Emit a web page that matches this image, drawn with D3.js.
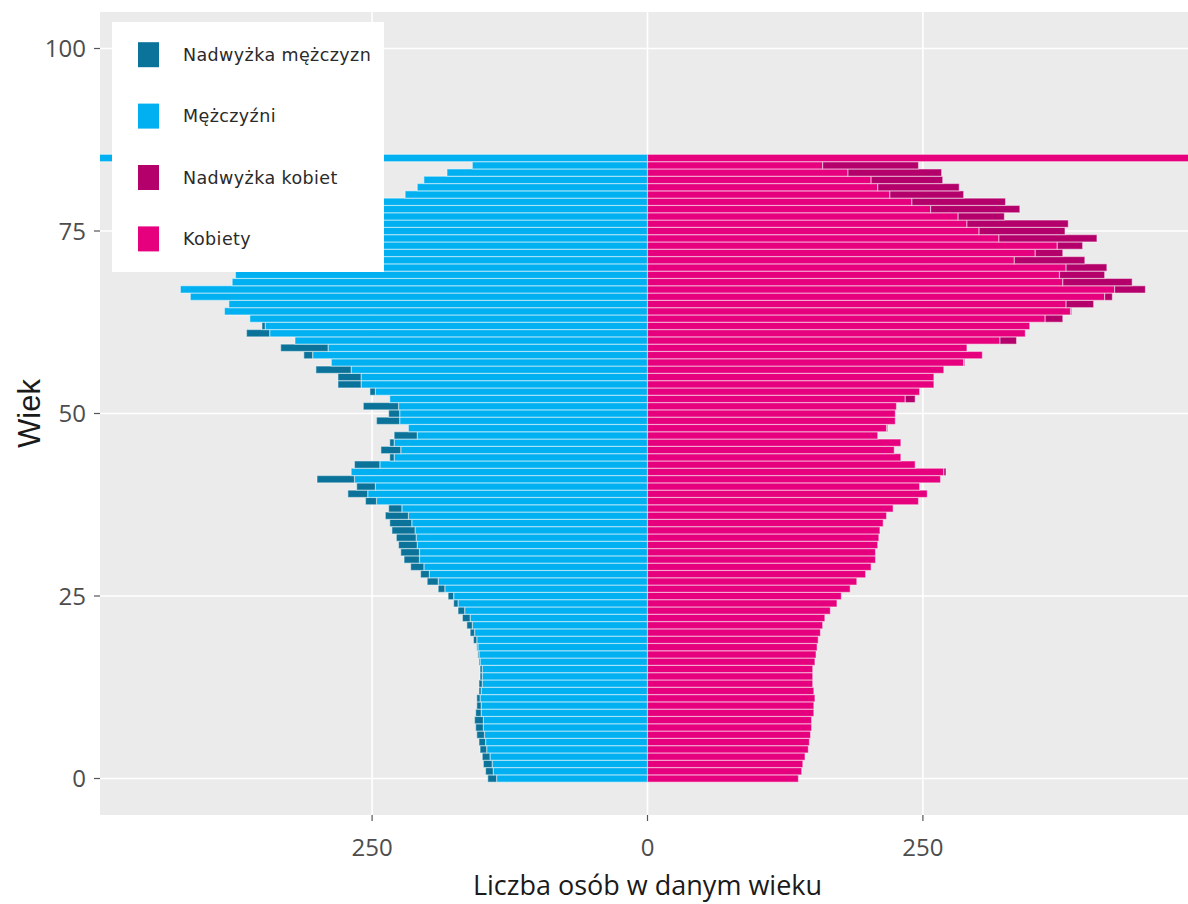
<!DOCTYPE html>
<html lang="pl">
<head>
    <meta charset="UTF-8">
    <title>Piramida wieku</title>
    <script src="https://cdnjs.cloudflare.com/ajax/libs/d3/7.8.5/d3.min.js"></script>
    <style>
        body {
            margin: 0;
            background: #ffffff;
        }
        svg {
            display: block;
        }
    </style>
</head>
<body>
    <svg id="chart" width="1188" height="904"></svg>

    <script>
        // wiek 0..85 (85 = 85 i wiecej)
        const ages = d3.range(0, 86);

        const males = [
            145, 147, 149, 150, 152, 153, 155, 156, 157, 156,
            155, 155, 153, 153, 152, 152, 153, 154, 155, 158,
            161, 164, 168, 172, 176, 181, 190, 200, 206, 215,
            221, 224, 226, 228, 232, 234, 238, 235, 256, 272,
            264, 300, 269, 266, 234, 242, 234, 230, 217, 246,
            235, 258, 234, 252, 281, 281, 301, 287, 312, 333,
            320, 364, 350, 361, 384, 380, 415, 424, 377, 374,
            380, 333, 352, 372, 319, 301, 290, 282, 257, 240,
            220, 209, 203, 182, 159, 510
        ];

        const females = [
            137, 140, 141, 143, 146, 147, 148, 149, 149, 151,
            151, 152, 151, 150, 150, 150, 152, 153, 154, 155,
            157, 159, 161, 166, 172, 176, 184, 190, 198, 203,
            207, 207, 209, 210, 211, 214, 217, 223, 246, 254,
            247, 266, 271, 243, 230, 224, 230, 209, 218, 225,
            225, 226, 243, 247, 260, 260, 269, 288, 304, 290,
            335, 343, 347, 377, 385, 405, 422, 452, 440, 415,
            417, 397, 377, 395, 408, 379, 382, 324, 338, 325,
            287, 283, 268, 267, 246, 980
        ];

        const xTicks = [-250, 0, 250];
        const yTicks = [0, 25, 50, 75, 100];

        const legendItems = [
            { label: "Nadwyżka mężczyzn", color: "#0b7399" },
            { label: "Mężczyźni", color: "#00b0f0" },
            { label: "Nadwyżka kobiet", color: "#b3006a" },
            { label: "Kobiety", color: "#e6007e" }
        ];

        const svg = d3.select("#chart");

        const panel = { left: 100, right: 1195, top: 12, bottom: 815 };

        const x = d3.scaleLinear().domain([-497, 497]).range([panel.left, panel.right]);
        const y = d3.scaleLinear().domain([-5, 105]).range([panel.bottom, panel.top]);

        svg.append("clipPath").attr("id", "clip")
            .append("rect")
            .attr("x", panel.left).attr("y", panel.top)
            .attr("width", panel.right - panel.left)
            .attr("height", panel.bottom - panel.top);

        // tlo panelu
        svg.append("rect")
            .attr("x", panel.left).attr("y", panel.top)
            .attr("width", panel.right - panel.left)
            .attr("height", panel.bottom - panel.top)
            .attr("fill", "#ebebeb");

        const grid = svg.append("g").attr("stroke", "#ffffff").attr("stroke-width", 1.6);
        grid.selectAll("line.v").data(xTicks).enter().append("line")
            .attr("x1", d => x(d)).attr("x2", d => x(d))
            .attr("y1", panel.top).attr("y2", panel.bottom);
        grid.selectAll("line.h").data(yTicks).enter().append("line")
            .attr("y1", d => y(d)).attr("y2", d => y(d))
            .attr("x1", panel.left).attr("x2", panel.right);

        // segmenty slupkow: wspolna czesc + nadwyzka
        const segs = [];
        ages.forEach((a, i) => {
            const m = males[i], f = females[i];
            const low = Math.min(m, f);
            segs.push({ age: a, from: -low, to: 0, color: "#00b0f0" });
            segs.push({ age: a, from: 0, to: low, color: "#e6007e" });
            if (m > f) segs.push({ age: a, from: -m, to: -f, color: "#0b7399" });
            if (f > m) segs.push({ age: a, from: m, to: f, color: "#b3006a" });
        });

        svg.append("g")
            .attr("clip-path", "url(#clip)")
            .selectAll("rect")
            .data(segs)
            .enter().append("rect")
            .attr("x", d => x(d.from))
            .attr("width", d => x(d.to) - x(d.from))
            .attr("y", d => y(d.age + 0.5))
            .attr("height", d => y(d.age - 0.5) - y(d.age + 0.5))
            .attr("fill", d => d.color)
            .attr("stroke", "#ffffff")
            .attr("stroke-opacity", 0.45)
            .attr("stroke-width", 1.2);

        // osie
        const xAxis = svg.append("g");
        xAxis.selectAll("line").data(xTicks).enter().append("line")
            .attr("x1", d => x(d)).attr("x2", d => x(d))
            .attr("y1", panel.bottom).attr("y2", panel.bottom + 6)
            .attr("stroke", "#555555").attr("stroke-width", 1.2);
        xAxis.selectAll("text").data(xTicks).enter().append("text")
            .attr("x", d => x(d))
            .attr("y", 856)
            .attr("text-anchor", "middle")
            .attr("font-family", "'Open Sans', sans-serif")
            .attr("font-size", 24)
            .attr("fill", "#4d4d4d")
            .text(d => Math.abs(d));

        const yAxis = svg.append("g");
        yAxis.selectAll("line").data(yTicks).enter().append("line")
            .attr("x1", panel.left - 6).attr("x2", panel.left)
            .attr("y1", d => y(d)).attr("y2", d => y(d))
            .attr("stroke", "#555555").attr("stroke-width", 1.2);
        yAxis.selectAll("text").data(yTicks).enter().append("text")
            .attr("x", 86)
            .attr("y", d => y(d))
            .attr("dy", "0.36em")
            .attr("text-anchor", "end")
            .attr("font-family", "'Open Sans', sans-serif")
            .attr("font-size", 24)
            .attr("fill", "#4d4d4d")
            .text(d => d);

        svg.append("text")
            .attr("x", x(0))
            .attr("y", 895)
            .attr("text-anchor", "middle")
            .attr("font-family", "'Open Sans', sans-serif")
            .attr("font-size", 27)
            .attr("fill", "#1a1a1a")
            .text("Liczba osób w danym wieku");

        svg.append("text")
            .attr("transform", `translate(40, ${(panel.top + panel.bottom) / 2}) rotate(-90)`)
            .attr("text-anchor", "middle")
            .attr("font-family", "'Liberation Sans', Arial, sans-serif")
            .attr("font-size", 31)
            .attr("fill", "#1a1a1a")
            .text("Wiek");

        // legenda
        const legend = svg.append("g");
        legend.append("rect")
            .attr("x", 112).attr("y", 22)
            .attr("width", 272).attr("height", 250)
            .attr("fill", "#ffffff");

        const item = legend.selectAll("g.item")
            .data(legendItems)
            .enter().append("g")
            .attr("transform", (d, i) => `translate(0, ${54.7 + i * 61.4})`);

        item.append("rect")
            .attr("x", 138).attr("y", -12.5)
            .attr("width", 21).attr("height", 25)
            .attr("fill", d => d.color);

        item.append("text")
            .attr("x", 183)
            .attr("dy", "0.36em")
            .attr("font-family", "'DejaVu Sans', sans-serif")
            .attr("font-size", 17.5)
            .attr("letter-spacing", 0.4)
            .attr("fill", "#2a2a2a")
            .text(d => d.label);
    </script>
</body>
</html>
